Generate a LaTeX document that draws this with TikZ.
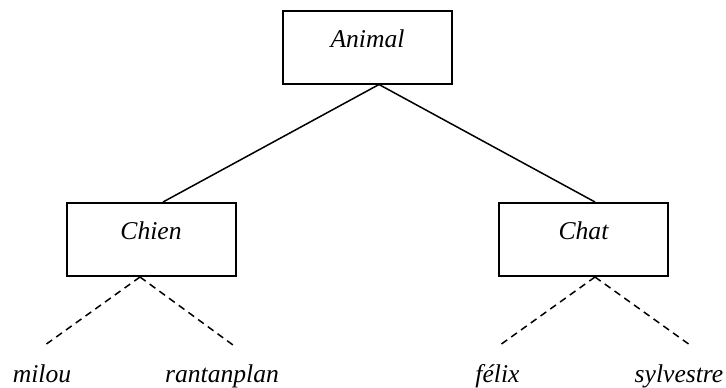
\documentclass[tikz,border=0pt]{standalone}
\usepackage{fontspec}
\setmainfont{Liberation Serif}
\tikzset{
    classbox/.style={draw, line width=1pt, minimum width=84.5pt, minimum height=36.5pt, inner sep=0pt, text height=6pt, text depth=6pt}, % boites des classes
    leaf/.style={anchor=base, inner sep=0pt}, % noms des instances
    link/.style={line width=0.75pt},
    inst/.style={line width=0.75pt, dash pattern=on 3.5pt off 2.5pt}
}

\begin{document}
\begin{tikzpicture}[x=0.5pt, y=-0.5pt, font=\fontsize{12.8}{15}\selectfont\itshape]
    \useasboundingbox (0,0) rectangle (726,387);

    \node[classbox] (animal) at (367.5,47) {Animal};
    \node[classbox] (chien) at (151,239.5) {Chien};
    \node[classbox] (chat) at (583.5,239.5) {Chat};

    \draw[link] ([xshift=5.75pt]animal.south) -- ([xshift=6pt]chien.north);
    \draw[link] ([xshift=5.75pt]animal.south) -- ([xshift=5.75pt]chat.north);

    \coordinate (milouend) at (45,345);
    \coordinate (rantanend) at (233,345);
    \coordinate (felixend) at (500,345);
    \coordinate (sylvend) at (690,345);

    \draw[inst] ([xshift=-5.5pt]chien.south) -- (milouend);
    \draw[inst] ([xshift=-5.5pt]chien.south) -- (rantanend);
    \draw[inst] ([xshift=5.75pt]chat.south) -- (felixend);
    \draw[inst] ([xshift=5.75pt]chat.south) -- (sylvend);

    \node[leaf] (milou) at (42,382) {milou};
    \node[leaf] (rantanplan) at (222,382) {rantanplan};
    \node[leaf] (felix) at (497.5,382) {félix};
    \node[leaf] (sylvestre) at (679,382) {sylvestre};
\end{tikzpicture}
\end{document}
